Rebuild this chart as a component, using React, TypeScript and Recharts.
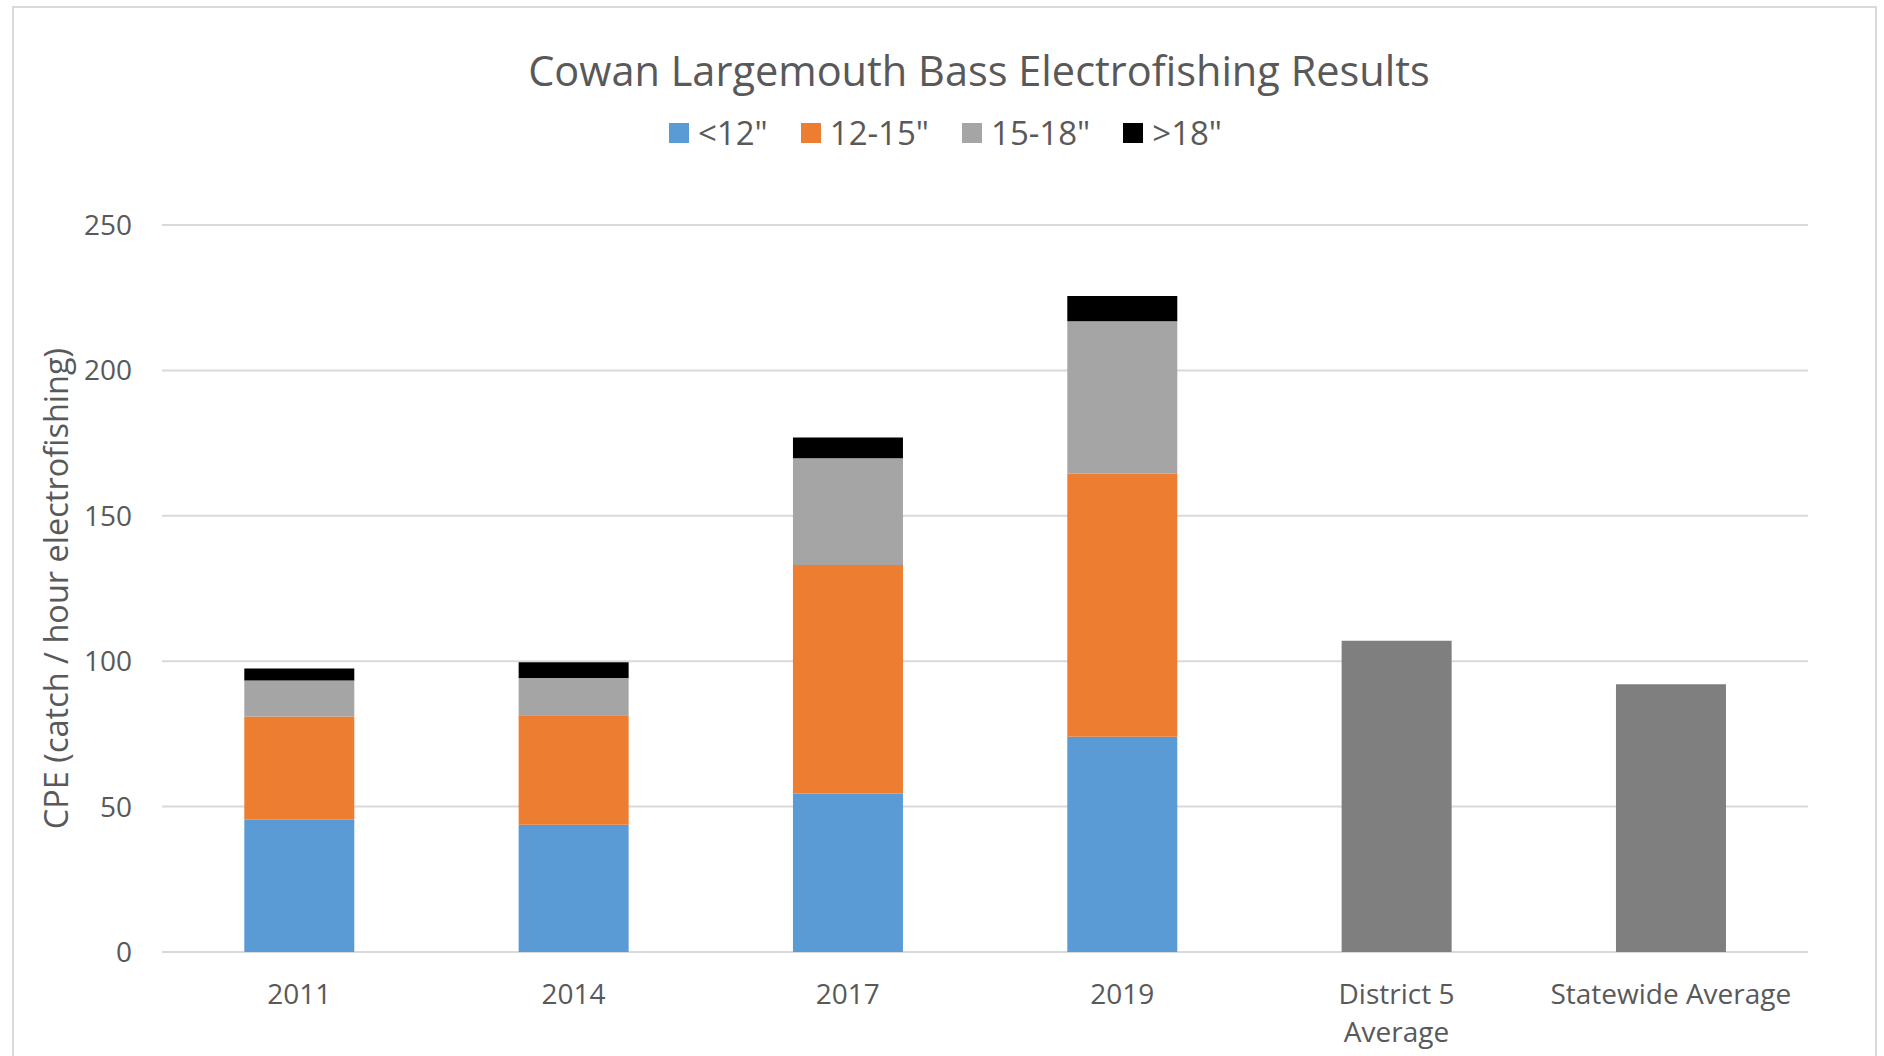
import React from 'react';
import { BarChart, Bar, XAxis, YAxis, CartesianGrid, Legend } from 'recharts';

const categories = ['2011', '2014', '2017', '2019', 'District 5\nAverage', 'Statewide Average'];
const under12 = [45.5, 43.8, 54.5, 74.0, null, null];
const from12to15 = [35.5, 37.6, 78.6, 90.5, null, null];
const from15to18 = [12.4, 12.8, 36.7, 52.4, null, null];
const over18 = [4.1, 5.4, 7.1, 8.7, null, null];
const averages = [null, null, null, null, 107.0, 92.1];
const yTicks = [0, 50, 100, 150, 200, 250];

const seriesNames = ['<12"', '12-15"', '15-18"', '>18"'];
const seriesColors = ['#5b9bd5', '#ed7d31', '#a5a5a5', '#000000'];
const avgColor = '#7f7f7f';

const data = categories.map((name, i) => ({
  name,
  s1: under12[i],
  s2: from12to15[i],
  s3: from15to18[i],
  s4: over18[i],
  avg: averages[i],
}));

const FONT = "'Open Sans', sans-serif";
const TEXT = '#595959';

const CatTick = (props: any) => {
  const { x, y, payload } = props;
  const lines = String(payload.value).split('\n');
  return (
    <text x={x} y={y} textAnchor="middle" fill={TEXT} fontSize={28} fontFamily={FONT}>
      {lines.map((l: string, i: number) => (
        <tspan key={i} x={x} dy={i === 0 ? 52 : 38}>
          {l}
        </tspan>
      ))}
    </text>
  );
};

const YLabel = (props: any) => {
  const vb = props.viewBox || { x: 0, y: 225, width: 162, height: 727 };
  const cx = vb.x + 55;
  const cy = vb.y + vb.height / 2;
  return (
    <text
      x={cx}
      y={cy}
      transform={`rotate(-90, ${cx}, ${cy})`}
      textAnchor="middle"
      dominantBaseline="central"
      fill={TEXT}
      fontSize={32.5}
      fontFamily={FONT}
    >
      CPE (catch / hour electrofishing)
    </text>
  );
};

const LegendContent = (props: any) => {
  const items = (props.payload || [])
    .filter((e: any) => e.type !== 'none' && seriesNames.indexOf(e.value) >= 0)
    .slice()
    .sort((a: any, b: any) => seriesNames.indexOf(a.value) - seriesNames.indexOf(b.value));
  return (
    <div style={{ display: 'flex', alignItems: 'center', height: 40 }}>
      {items.map((e: any, i: number) => (
        <div key={i} style={{ display: 'flex', alignItems: 'center', marginRight: 33 }}>
          <div style={{ width: 20, height: 20, background: e.color, marginRight: 9 }} />
          <span style={{ fontFamily: FONT, fontSize: 33, color: TEXT, lineHeight: '40px' }}>{e.value}</span>
        </div>
      ))}
    </div>
  );
};

export default function App() {
  return (
    <div style={{ position: 'absolute', left: 0, top: 0, width: 1884, height: 1056, overflow: 'hidden', background: '#fff' }}>
      <div
        style={{
          position: 'absolute',
          left: 12,
          top: 6,
          width: 1865,
          height: 1050,
          border: '2px solid #d9d9d9',
          borderBottom: 'none',
          boxSizing: 'border-box',
        }}
      />
      <div
        style={{
          position: 'absolute',
          left: 379,
          width: 1200,
          top: 45,
          textAlign: 'center',
          fontFamily: FONT,
          fontSize: 41.5,
          lineHeight: '50px',
          color: TEXT,
        }}
      >
        Cowan Largemouth Bass Electrofishing Results
      </div>
      <div style={{ position: 'absolute', left: 0, top: 0 }}>
        <BarChart
          width={1884}
          height={1056}
          data={data}
          margin={{ top: 225, right: 76, bottom: 0, left: 0 }}
          barCategoryGap="30%"
        >
          <CartesianGrid vertical={false} stroke="#d9d9d9" strokeWidth={2} />
          <XAxis
            dataKey="name"
            axisLine={false}
            tickLine={false}
            tickSize={0}
            tickMargin={0}
            height={104}
            interval={0}
            tick={<CatTick />}
          />
          <YAxis
            width={162}
            domain={[0, 250]}
            ticks={yTicks}
            axisLine={false}
            tickLine={false}
            tickSize={0}
            tickMargin={30}
            tick={{ fill: TEXT, fontSize: 28, fontFamily: FONT }}
            label={{ content: YLabel }}
          />
          <Legend
            layout="horizontal"
            verticalAlign="middle"
            align="center"
            content={LegendContent}
            wrapperStyle={{ position: 'absolute', left: 669, top: 113, width: 700 }}
          />
          <Bar dataKey="s1" stackId="a" name={seriesNames[0]} fill={seriesColors[0]} isAnimationActive={false} />
          <Bar dataKey="s2" stackId="a" name={seriesNames[1]} fill={seriesColors[1]} isAnimationActive={false} />
          <Bar dataKey="s3" stackId="a" name={seriesNames[2]} fill={seriesColors[2]} isAnimationActive={false} />
          <Bar dataKey="s4" stackId="a" name={seriesNames[3]} fill={seriesColors[3]} isAnimationActive={false} />
          <Bar dataKey="avg" stackId="a" name="Average" fill={avgColor} legendType="none" isAnimationActive={false} />
        </BarChart>
      </div>
    </div>
  );
}
